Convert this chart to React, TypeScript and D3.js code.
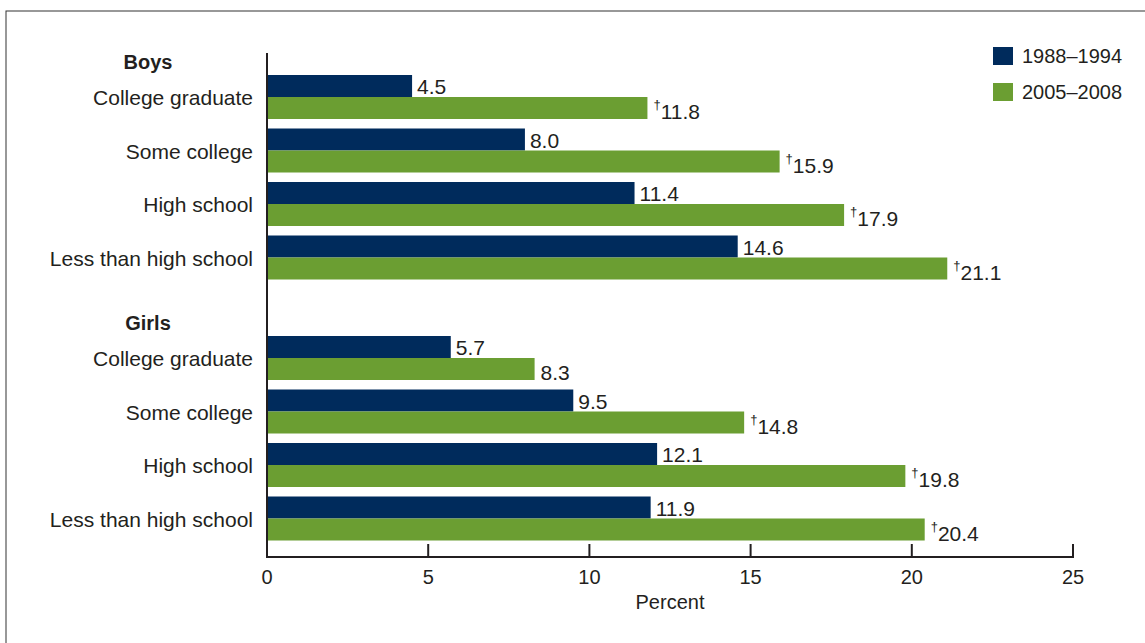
import React from 'react'
import * as d3 from 'd3'

const groups = ['Boys', 'Girls']
const categories = ['College graduate', 'Some college', 'High school', 'Less than high school']
const series = ['1988–1994', '2005–2008']
const boys1988 = [4.5, 8.0, 11.4, 14.6]
const boys2005 = [11.8, 15.9, 17.9, 21.1]
const girls1988 = [5.7, 9.5, 12.1, 11.9]
const girls2005 = [8.3, 14.8, 19.8, 20.4]
const boysSig = [true, true, true, true]
const girlsSig = [false, true, true, true]
const xTicks = [0, 5, 10, 15, 20, 25]

const colors = ['#002b5c', '#6b9e32']
const font = "'Liberation Sans', Arial, sans-serif"

export default function App() {
  const x = d3.scaleLinear().domain([0, 25]).range([267, 1073])
  const groupTop = [75, 336]
  const step = 53.5
  const barH = 22
  const fs = 21
  const data = [
    [boys1988, boys2005, boysSig],
    [girls1988, girls2005, girlsSig],
  ] as [number[], number[], boolean[]][]

  return (
    <svg width={1145} height={643} style={{ position: 'absolute', left: 0, top: 0 }} fontFamily={font}>
      <rect x={6} y={11} width={1150} height={650} fill="#fff" stroke="#333" strokeWidth={1} />
      {groups.map((g, gi) => (
        <g key={g}>
          <text x={148} y={groupTop[gi] - 6} fontSize={fs - 1} fontWeight="bold" textAnchor="middle" fill="#231f20">{g}</text>
          {categories.map((c, ci) => {
            const y0 = groupTop[gi] + ci * step
            const [a, b, sig] = data[gi]
            return (
              <g key={c}>
                <text x={253} y={y0 + barH + 8} fontSize={fs} textAnchor="end" fill="#231f20">{c}</text>
                <rect x={x(0)} y={y0} width={x(a[ci]) - x(0)} height={barH} fill={colors[0]} />
                <rect x={x(0)} y={y0 + barH} width={x(b[ci]) - x(0)} height={barH} fill={colors[1]} />
                <text x={x(a[ci]) + 5} y={y0 + barH - 3} fontSize={fs} fill="#231f20">{a[ci].toFixed(1)}</text>
                <text x={x(b[ci]) + 6} y={y0 + 2 * barH} fontSize={fs} fill="#231f20">
                  {sig[ci] && <tspan fontSize={13} dy={-10}>†</tspan>}
                  <tspan dy={sig[ci] ? 10 : 0}>{b[ci].toFixed(1)}</tspan>
                </text>
              </g>
            )
          })}
        </g>
      ))}
      <line x1={267} x2={267} y1={53} y2={557} stroke="#231f20" strokeWidth={2} />
      <line x1={266} x2={1074} y1={557} y2={557} stroke="#231f20" strokeWidth={2} />
      {xTicks.map(t => (
        <g key={t}>
          <line x1={x(t)} x2={x(t)} y1={544} y2={557} stroke="#231f20" strokeWidth={2} />
          <text x={x(t)} y={584} fontSize={fs - 1} textAnchor="middle" fill="#231f20">{t}</text>
        </g>
      ))}
      <text x={670} y={609} fontSize={fs - 1} textAnchor="middle" fill="#231f20">Percent</text>
      {series.map((s, i) => (
        <g key={s}>
          <rect x={993} y={47 + i * 36} width={20} height={18} fill={colors[i]} />
          <text x={1022} y={63 + i * 36} fontSize={fs - 1} fill="#231f20">{s}</text>
        </g>
      ))}
    </svg>
  )
}
